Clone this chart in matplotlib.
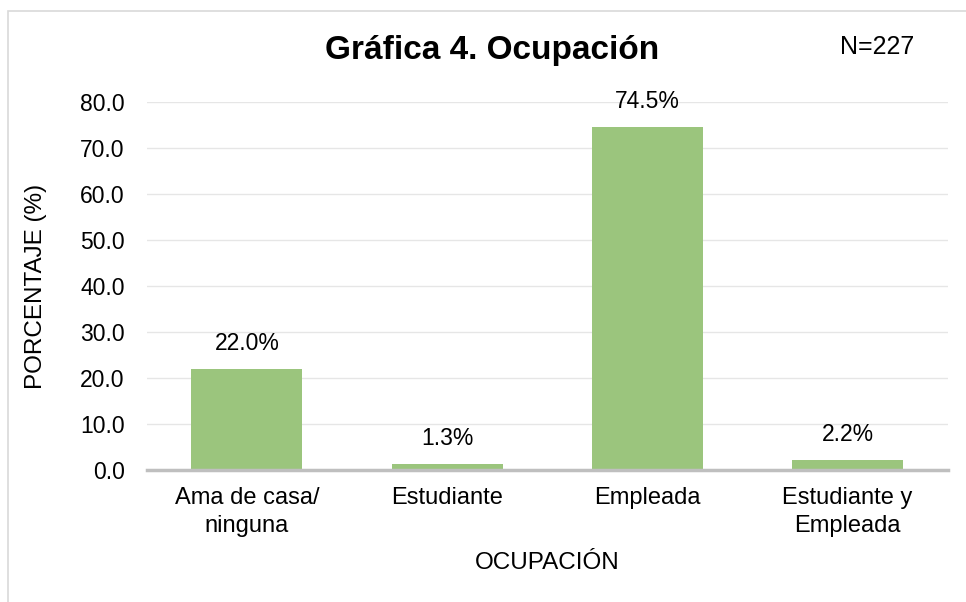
import matplotlib.pyplot as plt
from matplotlib.patches import Rectangle

categorias = ["Ama de casa/\nninguna", "Estudiante", "Empleada", "Estudiante y\nEmpleada"]
porcentajes = [22.0, 1.3, 74.5, 2.2]
etiquetas = ["22.0%", "1.3%", "74.5%", "2.2%"]

plt.rcParams['font.family'] = ['Liberation Sans', 'DejaVu Sans']

fig = plt.figure(figsize=(9.66, 6.02), dpi=100)
ax = fig.add_axes([0.152, 0.219, 0.829, 0.612])

# marco del gráfico (recortado en la imagen original)
fig.patches.append(Rectangle((8 / 966, -0.1), 1.2, 1 - 11 / 602 + 0.1, transform=fig.transFigure,
                             fill=False, edgecolor='#d9d9d9', linewidth=1.2))

x = range(len(categorias))
ax.bar(x, porcentajes, width=0.555, color='#9bc57d', zorder=3)
for xi, v, t in zip(x, porcentajes, etiquetas):
    ax.annotate(t, (xi, v), xytext=(0, 10), textcoords='offset points', ha='center', va='bottom', fontsize=16.5)

ax.set_xlim(-0.5, 3.5)
ax.set_ylim(0, 80)
ax.set_yticks(range(0, 81, 10))
ax.set_yticklabels([f"{v:.1f}" for v in range(0, 81, 10)], fontsize=16.5)
ax.set_xticks(list(x))
ax.set_xticklabels(categorias, fontsize=17, linespacing=1.35)
ax.tick_params(length=0)
ax.tick_params(axis='y', pad=16)
ax.tick_params(axis='x', pad=12)
ax.grid(axis='y', color='#e6e6e6', linewidth=1, zorder=0)
for s in ['top', 'right', 'left']:
    ax.spines[s].set_visible(False)
ax.spines['bottom'].set_color('#bfbfbf')
ax.spines['bottom'].set_linewidth(2.5)
ax.spines['bottom'].set_zorder(4)

ax.set_ylabel("PORCENTAJE (%)", fontsize=17.5, va='center')
ax.yaxis.set_label_coords(-0.138, 0.5)
ax.set_xlabel("OCUPACIÓN", fontsize=17.5, va='center')
ax.xaxis.set_label_coords(0.5, -0.253)

fig.text(492 / 966, 1 - 51 / 602, "Gráfica 4. Ocupación", fontsize=24, fontweight='bold', ha='center', va='center')
fig.text(877 / 966, 1 - 47 / 602, "N=227", fontsize=18, ha='center', va='center')

fig.savefig("out.png", dpi=100)
